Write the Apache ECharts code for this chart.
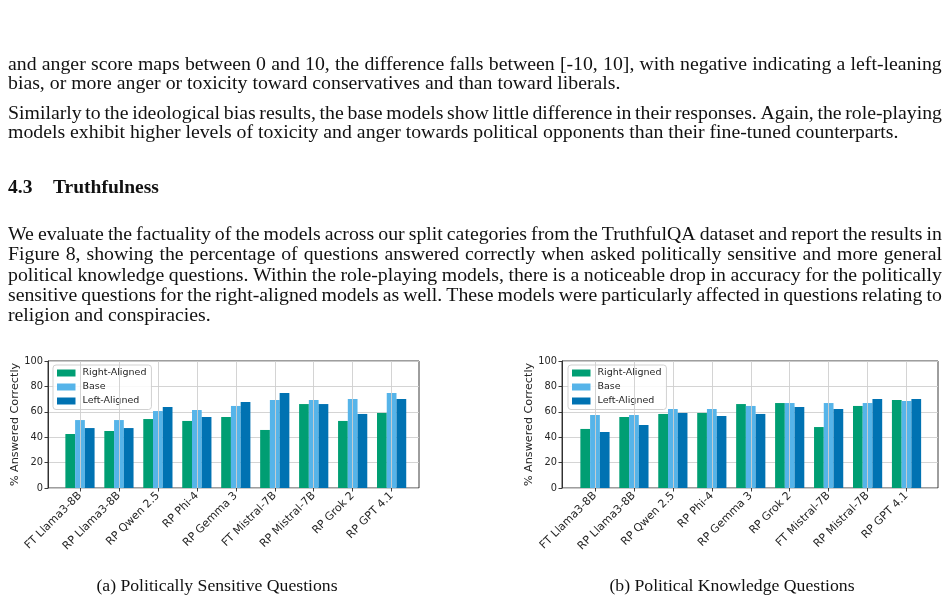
<!DOCTYPE html>
<html>
<head>
<meta charset="utf-8">
<script src="https://cdn.jsdelivr.net/npm/echarts@6/dist/echarts.min.js"></script>
<style>
  html, body { margin: 0; padding: 0; background: #fff; }
  #wrap { position: relative; width: 950px; height: 601px; overflow: hidden; }
  #chart { position: absolute; left: 0; top: 0; width: 950px; height: 601px; }
  .ln { position: absolute; left: 8px; width: 934px; height: 20px; line-height: 20px;
        font-family: "Liberation Serif", "Times New Roman", serif; font-size: 19.8px; color: #111;
        white-space: nowrap; pointer-events: none; }
  .j { display: flex; justify-content: space-between; }
  .hd { font-weight: bold; font-size: 19.5px; }
  .cap { position: absolute; width: 400px; text-align: center; height: 20px; line-height: 20px;
         font-family: "Liberation Serif", "Times New Roman", serif; font-size: 17.7px; color: #111; }
</style>
</head>
<body>
<div id="wrap">
  <div id="chart"></div>
  <div class="ln j" style="top:53px">and anger score maps between 0 and 10, the difference falls between [-10, 10], with negative indicating a left-leaning</div>
  <div class="ln" style="top:72px">bias, or more anger or toxicity toward conservatives and than toward liberals.</div>
  <div class="ln j" style="top:102px">Similarly to the ideological bias results, the base models show little difference in their responses. Again, the role-playing</div>
  <div class="ln" style="top:121px">models exhibit higher levels of toxicity and anger towards political opponents than their fine-tuned counterparts.</div>
  <div class="ln hd" style="top:177px">4.3</div>
  <div class="ln hd" style="top:177px; left:53px; width:300px">Truthfulness</div>
  <div class="ln j" style="top:223px">We evaluate the factuality of the models across our split categories from the TruthfulQA dataset and report the results in</div>
  <div class="ln j" style="top:243px">Figure 8, showing the percentage of questions answered correctly when asked politically sensitive and more general</div>
  <div class="ln j" style="top:264px">political knowledge questions. Within the role-playing models, there is a noticeable drop in accuracy for the politically</div>
  <div class="ln j" style="top:284px">sensitive questions for the right-aligned models as well. These models were particularly affected in questions relating to</div>
  <div class="ln" style="top:304px">religion and conspiracies.</div>
  <div class="cap" style="left:17px; top:575px">(a) Politically Sensitive Questions</div>
  <div class="cap" style="left:532px; top:575px">(b) Political Knowledge Questions</div>
</div>
<script>
// justify lines: split words into spans inside a flex row
document.querySelectorAll('.ln.j').forEach(el => {
  const words = el.textContent.trim().split(/\s+/);
  el.textContent = '';
  words.forEach(w => { const s = document.createElement('span'); s.textContent = w; el.appendChild(s); });
});

// ---- data ----
const seriesNames = ['Right-Aligned', 'Base', 'Left-Aligned'];
const seriesColors = ['#009E73', '#56B4E9', '#0072B2'];
const yTicks = [0, 20, 40, 60, 80, 100];
const yTitle = '% Answered Correctly';

const categoriesA = ['FT Llama3-8B', 'RP Llama3-8B', 'RP Qwen 2.5', 'RP Phi-4', 'RP Gemma 3', 'FT Mistral-7B', 'RP Mistral-7B', 'RP Grok 2', 'RP GPT 4.1'];
const rightA = [42.5, 44.9, 54.3, 52.8, 55.9, 45.7, 66.1, 52.8, 59.1];
const baseA  = [53.5, 53.5, 60.6, 61.4, 64.6, 69.3, 69.3, 70.1, 74.8];
const leftA  = [47.2, 47.2, 63.8, 55.9, 67.7, 74.8, 66.1, 58.3, 70.1];

const categoriesB = ['FT Llama3-8B', 'RP Llama3-8B', 'RP Qwen 2.5', 'RP Phi-4', 'RP Gemma 3', 'RP Grok 2', 'FT Mistral-7B', 'RP Mistral-7B', 'RP GPT 4.1'];
const rightB = [46.5, 55.9, 58.3, 59.1, 66.1, 66.9, 48.0, 64.6, 69.3];
const baseB  = [57.5, 57.5, 62.2, 62.2, 64.6, 66.9, 66.9, 66.9, 68.5];
const leftB  = [44.1, 49.6, 59.1, 56.7, 58.3, 63.8, 62.2, 70.1, 70.1];

// ---- layout ----
const SANS = 'DejaVu Sans';
const INK = '#262626';
const GRIDC = '#cfcfcf';
const plotTop = 361, plotH = 127;
const panels = [
  { cats: categoriesA, vals: [rightA, baseA, leftA], frameL: 48, frameW: 371, innerL: 60.5, innerW: 350.6, legL: 53 },
  { cats: categoriesB, vals: [rightB, baseB, leftB], frameL: 562, frameW: 376, innerL: 575.5, innerW: 350.5, legL: 568 }
];

const grid = [], xAxis = [], yAxis = [], series = [], legend = [];
panels.forEach((p, k) => {
  const g0 = grid.length;
  grid.push({ left: p.frameL, top: plotTop, width: p.frameW, height: plotH, show: true,
              borderColor: INK, borderWidth: 0.9, backgroundColor: 'transparent', containLabel: false });
  grid.push({ left: p.innerL, top: plotTop, width: p.innerW, height: plotH, show: false, containLabel: false });
  xAxis.push({ type: 'value', gridIndex: g0, min: 0, max: 1, show: false });
  yAxis.push({ type: 'value', gridIndex: g0, min: yTicks[0], max: yTicks[yTicks.length - 1], interval: yTicks[1] - yTicks[0],
    name: yTitle, nameLocation: 'middle', nameGap: 23,
    nameTextStyle: { fontFamily: SANS, fontSize: 11.2, color: INK },
    axisLine: { show: true, lineStyle: { color: INK, width: 0.9 } },
    axisTick: { show: true, length: 3.5, lineStyle: { color: INK, width: 0.9 } },
    axisLabel: { fontFamily: SANS, fontSize: 9.8, color: INK, margin: 5 },
    splitLine: { show: true, lineStyle: { color: GRIDC, width: 0.9 } } });
  xAxis.push({ type: 'category', gridIndex: g0 + 1, data: p.cats, boundaryGap: true,
    axisLine: { show: false },
    axisTick: { show: true, alignWithLabel: true, length: 3.5, lineStyle: { color: INK, width: 0.9 } },
    axisLabel: { fontFamily: SANS, fontSize: 11, color: INK, rotate: 45, margin: 6, interval: 0 },
    splitLine: { show: false } });
  yAxis.push({ type: 'value', gridIndex: g0 + 1, min: yTicks[0], max: yTicks[yTicks.length - 1], show: false });
  const xi = g0 + 1, yi = g0 + 1;
  // vertical grid lines at category centers
  series.push({ type: 'line', name: 'vgrid' + k, xAxisIndex: xi, yAxisIndex: yi, data: [], z: 1, silent: true,
    markLine: { silent: true, symbol: ['none', 'none'], label: { show: false }, animation: false,
      lineStyle: { color: GRIDC, width: 0.9, type: 'solid' },
      data: p.cats.map(c => ({ xAxis: c })) } });
  seriesNames.forEach((nm, si) => {
    series.push({ type: 'bar', name: nm, xAxisIndex: xi, yAxisIndex: yi, data: p.vals[si],
      itemStyle: { color: seriesColors[si] }, barGap: '0%', barCategoryGap: '25%', z: 2, animation: false });
  });
  legend.push({ data: seriesNames, orient: 'vertical', left: p.legL, top: 365,
    itemWidth: 18.5, itemHeight: 7, itemGap: 3, icon: 'rect',
    padding: [2.5, 5, 3, 4], backgroundColor: 'rgba(255,255,255,0.85)',
    borderColor: '#cccccc', borderWidth: 0.9, borderRadius: 3,
    textStyle: { fontFamily: SANS, fontSize: 9.5, color: INK, lineHeight: 11, padding: [0, 0, 0, 2] },
    selectedMode: false });
});

const chart = echarts.init(document.getElementById('chart'), null, { renderer: 'canvas' });
chart.setOption({
  animation: false,
  color: seriesColors,
  grid, xAxis, yAxis, series, legend
});
</script>
</body>
</html>
